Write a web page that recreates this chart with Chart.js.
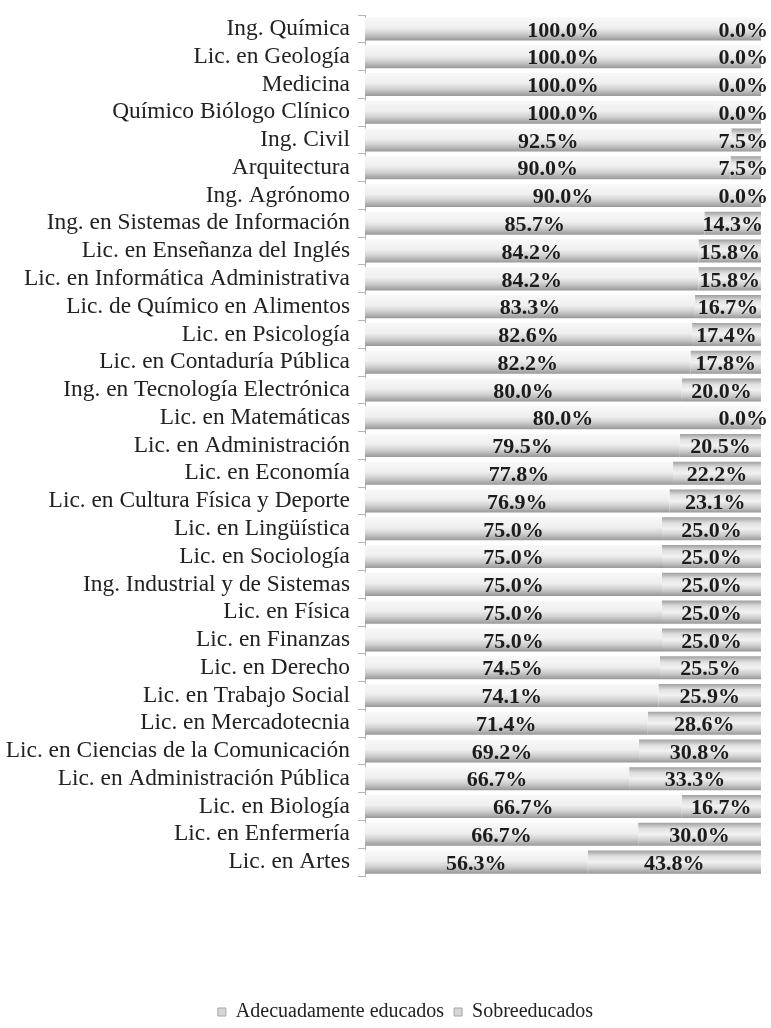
<!DOCTYPE html>
<html>
<head>
<meta charset="utf-8">
<script src="https://cdn.jsdelivr.net/npm/chart.js@4/dist/chart.umd.min.js"></script>
<style>
  html, body { margin: 0; padding: 0; background: #ffffff; }
  #wrap { width: 771px; height: 1028px; }
</style>
</head>
<body>
<div id="wrap"><canvas id="eduChart"></canvas></div>
<script>
const categories = [
    'Ing. Química', 'Lic. en Geología', 'Medicina', 'Químico Biólogo Clínico',
    'Ing. Civil', 'Arquitectura', 'Ing. Agrónomo', 'Ing. en Sistemas de Información',
    'Lic. en Enseñanza del Inglés', 'Lic. en Informática Administrativa',
    'Lic. de Químico en Alimentos', 'Lic. en Psicología', 'Lic. en Contaduría Pública',
    'Ing. en Tecnología Electrónica', 'Lic. en Matemáticas', 'Lic. en Administración',
    'Lic. en Economía', 'Lic. en Cultura Física y Deporte', 'Lic. en Lingüística',
    'Lic. en Sociología', 'Ing. Industrial y de Sistemas', 'Lic. en Física',
    'Lic. en Finanzas', 'Lic. en Derecho', 'Lic. en Trabajo Social',
    'Lic. en Mercadotecnia', 'Lic. en Ciencias de la Comunicación',
    'Lic. en Administración Pública', 'Lic. en Biología', 'Lic. en Enfermería',
    'Lic. en Artes'
];
const adecuados = [
    100.0, 100.0, 100.0, 100.0, 92.5, 90.0, 90.0, 85.7, 84.2, 84.2, 83.3, 82.6,
    82.2, 80.0, 80.0, 79.5, 77.8, 76.9, 75.0, 75.0, 75.0, 75.0, 75.0, 74.5,
    74.1, 71.4, 69.2, 66.7, 66.7, 66.7, 56.3
];
const sobreeducados = [
    0.0, 0.0, 0.0, 0.0, 7.5, 7.5, 0.0, 14.3, 15.8, 15.8, 16.7, 17.4,
    17.8, 20.0, 0.0, 20.5, 22.2, 23.1, 25.0, 25.0, 25.0, 25.0, 25.0, 25.5,
    25.9, 28.6, 30.8, 33.3, 16.7, 30.0, 43.8
];
const seriesNames = ['Adecuadamente educados', 'Sobreeducados'];

// bars are drawn as a 100% stack, labels keep the original values
const totals = categories.map((_, i) => adecuados[i] + sobreeducados[i]);
const shareA = adecuados.map((v, i) => totals[i] ? v / totals[i] * 100 : 0);
const shareS = sobreeducados.map((v, i) => totals[i] ? v / totals[i] * 100 : 0);

const FONT         = '"Liberation Serif", "Times New Roman", serif';
const TEXT         = '#222222';
const AXIS_GREY    = '#b4b4b4';
const BAR_PCT      = 0.83;
const LEGEND_SHIFT = 25;

const STOPS_A = [[0, '#f8f8f8'], [0.45, '#efefef'], [0.7, '#d0d0d0'], [1, '#989898']];
const STOPS_S = [[0, '#a0a0a0'], [0.25, '#e0e0e0'], [0.5, '#f2f2f2'], [0.75, '#cecece'], [1, '#989898']];

function barGradient(stops) {
    return function(context) {
        const chart = context.chart;
        const y = chart.scales.y;
        if (!y || !chart.chartArea || context.type !== 'data') return stops[1][1];
        const c = y.getPixelForValue(context.dataIndex);
        const half = (y.height / categories.length) * BAR_PCT / 2;
        if (!isFinite(c) || !isFinite(half) || half <= 0) return stops[1][1];
        const g = chart.ctx.createLinearGradient(0, c - half, 0, c + half);
        stops.forEach(s => g.addColorStop(s[0], s[1]));
        return g;
    };
}

const valueLabels = {
    id: 'valueLabels',
    afterLayout(chart) {
        // legend in the original sits a little right of centre
        if (chart.legend) {
            chart.legend.left += LEGEND_SHIFT;
            chart.legend.right += LEGEND_SHIFT;
        }
    },
    afterDatasetsDraw(chart) {
        const ctx = chart.ctx;
        const raws = [adecuados, sobreeducados];
        ctx.save();
        ctx.font = 'bold 22px ' + FONT;
        ctx.fillStyle = '#1c1c1c';
        ctx.textAlign = 'center';
        ctx.textBaseline = 'middle';
        const maxRight = chart.chartArea.right + 7;
        raws.forEach((vals, i) => {
            chart.getDatasetMeta(i).data.forEach((bar, j) => {
                const text = vals[j].toFixed(1) + '%';
                const w = ctx.measureText(text).width;
                let cx = (bar.x + bar.base) / 2;
                if (cx + w / 2 > maxRight) cx = maxRight - w / 2;
                ctx.fillText(text, cx, bar.y + 2);
            });
        });
        ctx.restore();
    }
};

new Chart(document.getElementById('eduChart'), {
    type: 'bar',
    data: {
        labels: categories,
        datasets: [
            {
                label: seriesNames[0],
                data: shareA,
                backgroundColor: barGradient(STOPS_A),
                borderWidth: 0,
                barPercentage: BAR_PCT,
                categoryPercentage: 1
            },
            {
                label: seriesNames[1],
                data: shareS,
                backgroundColor: barGradient(STOPS_S),
                borderWidth: 0,
                barPercentage: BAR_PCT,
                categoryPercentage: 1
            }
        ]
    },
    options: {
        indexAxis: 'y',
        responsive: true,
        maintainAspectRatio: false,
        animation: false,
        layout: { padding: { top: 15, right: 10, left: 0, bottom: -4 } },
        plugins: {
            tooltip: { enabled: false },
            legend: {
                position: 'bottom',
                labels: {
                    color: TEXT,
                    font: { family: FONT, size: 20 },
                    boxWidth: 8,
                    boxHeight: 8,
                    padding: 10,
                    generateLabels: function(chart) {
                        const items = Chart.defaults.plugins.legend.labels.generateLabels(chart);
                        items.forEach(it => {
                            it.fillStyle = '#d6d6d6';
                            it.strokeStyle = '#a8a8a8';
                            it.lineWidth = 1;
                        });
                        return items;
                    }
                }
            }
        },
        scales: {
            x: {
                stacked: true,
                min: 0,
                max: 100,
                grid: { display: false },
                border: { display: false },
                ticks: { display: false },
                afterFit: scale => { scale.height = 116; }
            },
            y: {
                stacked: true,
                grid: {
                    drawOnChartArea: false,
                    drawTicks: true,
                    tickLength: 7,
                    color: AXIS_GREY,
                    offset: true
                },
                border: { display: true, color: AXIS_GREY },
                ticks: {
                    color: TEXT,
                    padding: 8,
                    autoSkip: false,
                    font: { family: FONT, size: 23.4 }
                },
                afterFit: scale => {
                    scale.width = 365;
                    scale.paddingTop = 0;
                    scale.paddingBottom = 0;
                }
            }
        }
    },
    plugins: [valueLabels]
});
</script>
</body>
</html>
